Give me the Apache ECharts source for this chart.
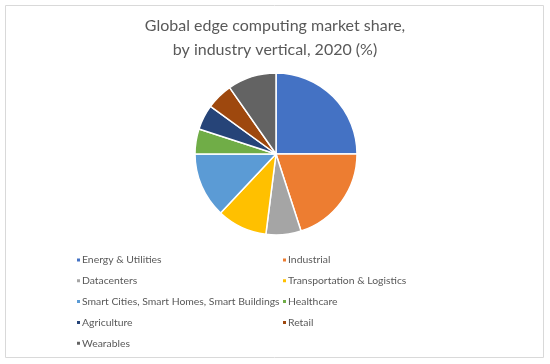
<!DOCTYPE html>
<html><head><meta charset="utf-8">
<script src="https://cdn.jsdelivr.net/npm/echarts@6/dist/echarts.min.js"></script>
<style>html,body{margin:0;padding:0;background:#fff}#c{width:550px;height:364px}</style>
</head><body><div id="c"></div>
<script>
const categories = ["Energy & Utilities","Industrial","Datacenters","Transportation & Logistics","Smart Cities, Smart Homes, Smart Buildings","Healthcare","Agriculture","Retail","Wearables"];
const values = [25, 20, 7, 10, 13, 5, 5, 5.3, 9.7];
const colors = ["#4472C4","#ED7D31","#A5A5A5","#FFC000","#5B9BD5","#70AD47","#264478","#9E480E","#636363"];
const titleLines = ["Global edge computing market share,", "by industry vertical, 2020 (%)"];

const chart = echarts.init(document.getElementById('c'));
const font = 'Lato';
const legendCommon = {
  orient: 'vertical', itemWidth: 5, itemHeight: 5, icon: 'rect', itemGap: 10.8,
  textStyle: {fontFamily: font, fontSize: 10.4, color: '#595959', padding: [0,0,0,-4]},
  selectedMode: false
};
chart.setOption({
  color: colors,
  graphic: [{type:'rect', shape:{x:5.5,y:5.5,width:538,height:352}, style:{fill:'none', stroke:'#d9d9d9', lineWidth:1}}],
  title: {text: titleLines.join('\n'), left: 'center', top: 9,
    textStyle: {fontFamily: font, fontSize: 16, fontWeight: 'normal', color: '#595959', lineHeight: 24}},
  legend: [
    Object.assign({left: 70, top: 250, data: categories.filter((c,i)=>i%2===0)}, legendCommon),
    Object.assign({left: 276, top: 250, data: categories.filter((c,i)=>i%2===1)}, legendCommon)
  ],
  series: [{
    type: 'pie', center: [276, 154], radius: 81, startAngle: 90, clockwise: true,
    label: {show: false}, labelLine: {show: false}, animation: false,
    itemStyle: {borderColor: '#fff', borderWidth: 1.5},
    emphasis: {disabled: true},
    data: categories.map((c,i)=>({name: c, value: values[i]}))
  }]
});
</script></body></html>
